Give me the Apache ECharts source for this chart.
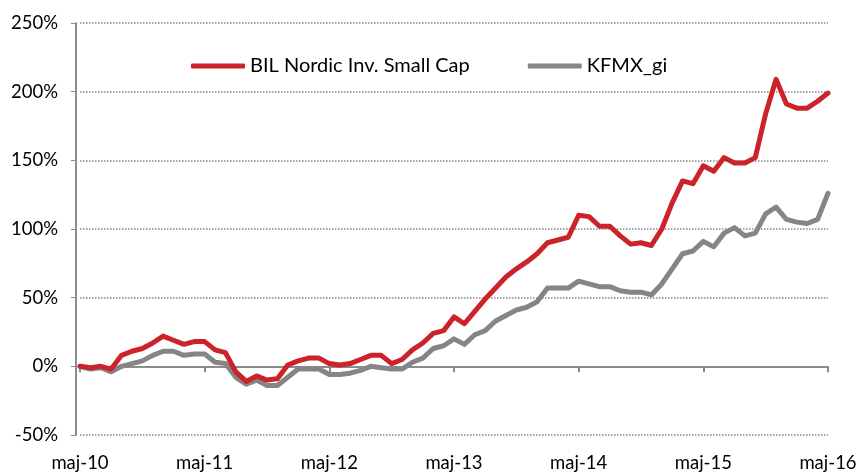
<!DOCTYPE html>
<html>
<head>
<meta charset="utf-8">
<script src="https://cdn.jsdelivr.net/npm/echarts@6/dist/echarts.min.js"></script>
<style>
  html, body { margin: 0; padding: 0; background: #fff; }
  #chart { width: 864px; height: 475px; }
</style>
</head>
<body>
<div id="chart"></div>
<script>
// monthly, maj-10 .. maj-16
var months = ['maj', 'jun', 'jul', 'aug', 'sep', 'okt', 'nov', 'dec', 'jan', 'feb', 'mar', 'apr'];
var categories = [];
for (var i = 0; i <= 72; i++) {
  var m = months[i % 12];
  var yr = 10 + Math.floor((i + 4) / 12);
  categories.push(m + '-' + yr);
}

var bilNordic = [
  0, -1, 0, -2, 8, 11, 13, 17, 22, 19, 16, 18,
  18, 12, 10, -4, -11, -7, -10, -9, 1, 4, 6, 6,
  2, 1, 2, 5, 8, 8, 2, 5, 12, 17, 24, 26,
  36, 31, 40, 49, 57, 65, 71, 76, 82, 90, 92, 94,
  110, 109, 102, 102, 95, 89, 90, 88, 100, 119, 135, 133,
  146, 142, 152, 148, 148, 152, 184, 209, 191, 188, 188, 193,
  199
];

var kfmx = [
  0, -2, -1, -4, 0, 2, 4, 8, 11, 11, 8, 9,
  9, 3, 2, -8, -13, -10, -14, -14, -8, -2, -2, -2,
  -6, -6, -5, -3, 0, -1, -2, -2, 3, 6, 13, 15,
  20, 16, 23, 26, 33, 37, 41, 43, 47, 57, 57, 57,
  62, 60, 58, 58, 55, 54, 54, 52, 60, 71, 82, 84,
  91, 87, 97, 101, 95, 97, 111, 116, 107, 105, 104, 107,
  126
];

var font = 'Lato, "Open Sans", sans-serif';
var chart = echarts.init(document.getElementById('chart'));
chart.setOption({
  animation: false,
  grid: { left: 80, right: 36, top: 23, bottom: 40, containLabel: false },
  legend: {
    left: 186,
    top: 51,
    icon: 'roundRect',
    itemWidth: 54,
    itemHeight: 5,
    itemGap: 58,
    textStyle: { fontFamily: font, fontSize: 20, color: '#000' },
    data: ['BIL Nordic Inv. Small Cap', 'KFMX_gi']
  },
  xAxis: [
    {
      type: 'category',
      data: categories,
      boundaryGap: false,
      position: 'bottom',
      axisLine: { show: false, onZero: false },
      axisTick: { show: false },
      axisLabel: {
        interval: 11,
        margin: 19,
        fontFamily: font,
        fontSize: 18.5,
        color: '#000'
      },
      splitLine: { show: false }
    },
    {
      type: 'category',
      data: categories,
      boundaryGap: false,
      position: 'bottom',
      axisLine: { show: true, onZero: true, lineStyle: { color: '#8c8c8c', width: 2 } },
      axisTick: { show: true, interval: 11, length: 6, lineStyle: { color: '#8c8c8c', width: 2 } },
      axisLabel: { show: false },
      splitLine: { show: false }
    }
  ],
  yAxis: {
    type: 'value',
    min: -50,
    max: 250,
    interval: 50,
    offset: 4,
    axisLine: { show: true, lineStyle: { color: '#8c8c8c', width: 2 } },
    axisTick: { show: true, length: 5, lineStyle: { color: '#8c8c8c', width: 1 } },
    axisLabel: {
      formatter: '{value}%',
      margin: 18,
      fontFamily: font,
      fontSize: 18.5,
      color: '#000'
    },
    splitLine: { show: true, lineStyle: { color: '#888', type: 'dotted', width: 1.5 } }
  },
  series: [
    {
      name: 'KFMX_gi',
      type: 'line',
      xAxisIndex: 0,
      data: kfmx,
      showSymbol: false,
      symbol: 'none',
      lineStyle: { color: '#858585', width: 5, cap: 'round', join: 'round' },
      itemStyle: { color: '#858585' }
    },
    {
      name: 'BIL Nordic Inv. Small Cap',
      type: 'line',
      xAxisIndex: 0,
      data: bilNordic,
      showSymbol: false,
      symbol: 'none',
      lineStyle: { color: '#cc2229', width: 5, cap: 'round', join: 'round' },
      itemStyle: { color: '#cc2229' }
    }
  ]
});
</script>
</body>
</html>
